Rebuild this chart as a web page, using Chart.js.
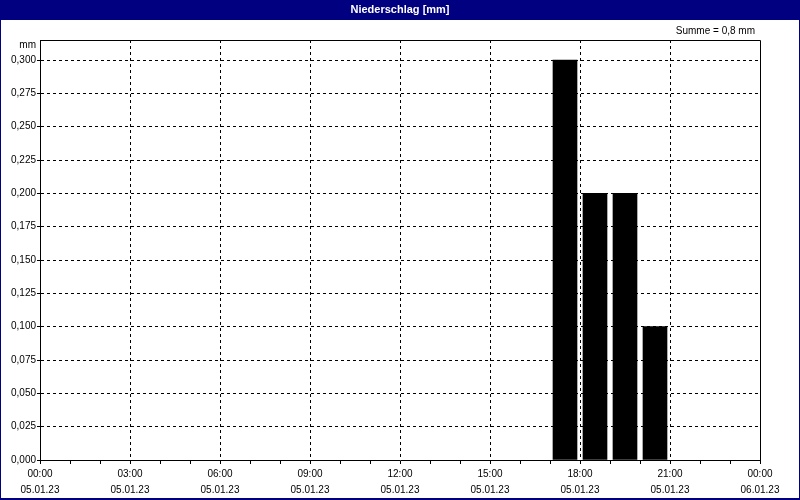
<!DOCTYPE html>
<html>
<head>
<meta charset="utf-8">
<script src="https://cdn.jsdelivr.net/npm/chart.js@4"></script>
<style>
  html, body { margin: 0; padding: 0; background: #fff; }
  canvas { display: block; }
</style>
</head>
<body>
<canvas id="rainChart" width="800" height="500"></canvas>
<script>
// hourly precipitation, each bar fills one hour slot
const slotStart = [17, 18, 19, 20];
const precip = [0.3, 0.2, 0.2, 0.1];
const timeLabels = ['00:00', '03:00', '06:00', '09:00', '12:00', '15:00', '18:00', '21:00', '00:00'];
const dateLabels = ['05.01.23', '05.01.23', '05.01.23', '05.01.23', '05.01.23', '05.01.23', '05.01.23', '05.01.23', '06.01.23'];
const yTicks = [0, 0.025, 0.05, 0.075, 0.1, 0.125, 0.15, 0.175, 0.2, 0.225, 0.25, 0.275, 0.3];

const navy = '#000080';
const total = precip.reduce((a, b) => a + b, 0);
const fmt = (v, d) => v.toFixed(d).replace('.', ',');

Chart.defaults.font.family = '"Liberation Sans", Arial, sans-serif';
Chart.defaults.font.size = 10;
Chart.defaults.color = '#000';

/* frame, title bar and extra texts */
const decor = {
  id: 'decor',
  beforeDraw(chart) {
    const ctx = chart.ctx;
    ctx.save();
    ctx.fillStyle = navy;
    ctx.fillRect(0, 0, chart.width, chart.height);
    ctx.fillStyle = '#fff';
    ctx.fillRect(1, 20, chart.width - 2, chart.height - 22);
    ctx.font = 'bold 11px "Liberation Sans", Arial, sans-serif';
    ctx.textAlign = 'center';
    ctx.textBaseline = 'middle';
    ctx.fillText('Niederschlag [mm]', chart.width / 2, 10);
    ctx.restore();
  },
  afterDraw(chart) {
    const ctx = chart.ctx;
    const a = chart.chartArea;
    ctx.save();
    ctx.strokeStyle = '#000';
    ctx.lineWidth = 1;
    ctx.beginPath();
    ctx.moveTo(a.left, a.top + 0.5);
    ctx.lineTo(a.right + 0.5, a.top + 0.5);
    ctx.lineTo(a.right + 0.5, a.bottom);
    ctx.stroke();
    ctx.fillStyle = '#000';
    ctx.font = '10px "Liberation Sans", Arial, sans-serif';
    ctx.textBaseline = 'middle';
    ctx.textAlign = 'right';
    ctx.fillText('mm', a.left - 4, a.top + 5);
    ctx.fillText('Summe = ' + fmt(total, 1) + ' mm', a.right - 5, 31);
    ctx.restore();
  }
};

new Chart(document.getElementById('rainChart'), {
  type: 'bar',
  data: {
    datasets: [{
      data: slotStart.map((h, i) => ({ x: h + 0.5, y: precip[i] })),
      backgroundColor: '#000',
      borderWidth: 0,
      barThickness: 24
    }]
  },
  options: {
    responsive: false,
    animation: false,
    layout: { padding: { top: 40, right: 40, left: 0, bottom: 0 } },
    plugins: { legend: { display: false }, title: { display: false }, tooltip: { enabled: false } },
    scales: {
      x: {
        type: 'linear',
        min: 0,
        max: 24,
        offset: false,
        afterFit(s) { s.height = 40; },
        ticks: {
          stepSize: 1,
          autoSkip: false,
          maxRotation: 0,
          padding: 2,
          font: { size: 10, lineHeight: 1.6 },
          callback: v => v % 3 === 0 ? [timeLabels[v / 3], dateLabels[v / 3]] : ''
        },
        grid: {
          offset: false,
          color: c => (c.tick && c.tick.value % 3 === 0 && c.tick.value > 0 && c.tick.value < 24) ? '#000' : 'rgba(0,0,0,0)',
          tickColor: '#000',
          tickLength: 4,
          lineWidth: 1
        },
        border: { color: '#000', width: 1, dash: [3, 3] }
      },
      y: {
        min: 0,
        max: 0.315,
        afterFit(s) { s.width = 40; },
        afterBuildTicks(s) { s.ticks = yTicks.map(v => ({ value: v })); },
        ticks: {
          padding: 1,
          callback: v => fmt(v, 3)
        },
        grid: {
          color: c => (c.tick && c.tick.value > 0) ? '#000' : 'rgba(0,0,0,0)',
          tickColor: '#000',
          tickLength: 3,
          lineWidth: 1
        },
        border: { color: '#000', width: 1, dash: [3, 3] }
      }
    }
  },
  plugins: [decor]
});
</script>
</body>
</html>
